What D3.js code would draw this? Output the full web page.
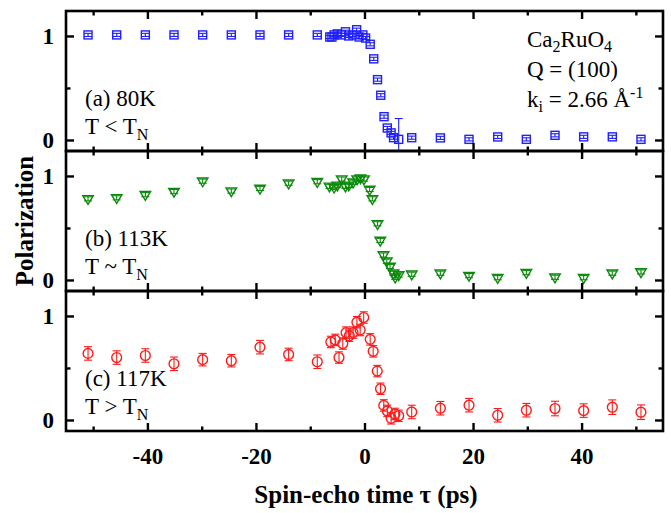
<!DOCTYPE html>
<html>
<head>
<meta charset="utf-8">
<script src="https://cdn.jsdelivr.net/npm/d3@7"></script>
<style>
  html, body { margin: 0; padding: 0; background: #fff; }
  svg { display: block; }
  text { font-family: "Liberation Serif", "Times New Roman", serif; fill: #000; }
</style>
</head>
<body>
<svg id="chart" width="671" height="513"></svg>
<script>
// Spin-echo times (ps) sampled far from the echo point
const timeWide = [-50.94, -45.66, -40.38, -35.1, -29.82, -24.54, -19.26, -13.98, -8.7,
                  8.7, 13.98, 19.26, 24.54, 29.82, 35.1, 40.38, 45.66, 50.94];

// (a) 80 K
const timeDenseA = [-6.4, -6.0, -5.6, -5.0, -4.3, -3.5, -2.9, -2.15, -1.45, -1.0, -0.3, 0.2,
                    1.05, 1.7, 2.4, 3.0, 3.6, 4.2, 4.9, 5.35, 6.3];
const polWideA = [1.01, 1.01, 1.01, 1.01, 1.01, 1.01, 1.01, 1.01, 1.01,
                  0.022, 0.02, 0.006, 0.029, 0.006, 0.045, 0.03, 0.03, 0.006];
const polDenseA = [0.99, 0.99, 1.01, 1.02, 1.01, 1.04, 1.0, 1.01, 1.06, 0.99, 1.01, 0.98,
                   0.92, 0.78, 0.58, 0.43, 0.224, 0.115, 0.068, 0.022, 0.006];
const errDenseA = [0.015, 0.015, 0.015, 0.015, 0.015, 0.015, 0.015, 0.015, 0.015, 0.015, 0.015, 0.015,
                   0.015, 0.015, 0.015, 0.015, 0.015, 0.015, 0.015, 0.015, 0.2];
const errWideA = 0.015;

// (b) 113 K
const timeDenseB = [-6.45, -5.6, -5.0, -4.2, -3.5, -2.9, -2.1, -1.35, -0.74, -0.1,
                    0.95, 1.45, 2.4, 2.9, 3.5, 4.1, 4.7, 5.35, 5.66, 6.3];
const polWideB = [0.78, 0.79, 0.82, 0.85, 0.95, 0.855, 0.88, 0.93, 0.945,
                  0.055, 0.065, 0.042, 0.022, 0.07, 0.026, 0.022, 0.065, 0.077];
const polDenseB = [0.90, 0.89, 0.91, 0.97, 0.90, 0.91, 0.94, 0.97, 0.98, 0.97,
                   0.87, 0.78, 0.54, 0.38, 0.24, 0.18, 0.13, 0.065, 0.026, 0.048];
const errB = 0.02;

// (c) 117 K
const timeDenseC = [-6.2, -5.4, -4.7, -4.0, -3.4, -2.8, -2.1, -1.4, -0.8, -0.15,
                    1.05, 1.6, 2.35, 2.95, 3.55, 4.2, 4.9, 5.6, 6.3];
const polWideC = [0.64, 0.60, 0.62, 0.54, 0.58, 0.57, 0.70, 0.63, 0.56,
                  0.077, 0.113, 0.142, 0.045, 0.094, 0.11, 0.09, 0.123, 0.075];
const polDenseC = [0.75, 0.77, 0.60, 0.735, 0.84, 0.81, 0.84, 0.94, 0.865, 0.985,
                   0.775, 0.66, 0.47, 0.30, 0.14, 0.087, 0.016, 0.058, 0.04];
const errWideC = [0.065, 0.065, 0.065, 0.065, 0.06, 0.06, 0.065, 0.06, 0.065,
                  0.065, 0.065, 0.065, 0.065, 0.065, 0.07, 0.065, 0.07, 0.07];
const errDenseC = 0.055;

const xMajorTicks = [-40, -20, 0, 20, 40];
const xMinorTicks = [-50, -30, -10, 10, 30, 50];
const yMajorTicks = [0, 1];
const yMinorTicks = [0.5];

const svg = d3.select("#chart");
const margin = { left: 66, right: 8, top: 11 };
const plotW = 671 - margin.left - margin.right;
const panelH = 140;

const x = d3.scaleLinear().domain([-55, 55]).range([0, plotW]);
const yDomain = [-0.106, 1.24];

function points(times, vals, errs) {
  return times.map((t, i) => ({ t, v: vals[i], e: Array.isArray(errs) ? errs[i] : errs }));
}

const panels = [
  {
    id: "a", color: "#1f1fff", shape: "square",
    data: points(timeWide, polWideA, errWideA).concat(points(timeDenseA, polDenseA, errDenseA)),
    lines: [["(a) 80K"], ["T < T", "N"]]
  },
  {
    id: "b", color: "#0a8a0a", shape: "triangle",
    data: points(timeWide, polWideB, errB).concat(points(timeDenseB, polDenseB, errB)),
    lines: [["(b) 113K"], ["T ~ T", "N"]]
  },
  {
    id: "c", color: "#ff1a1a", shape: "circle",
    data: points(timeWide, polWideC, errWideC).concat(points(timeDenseC, polDenseC, errDenseC)),
    lines: [["(c) 117K"], ["T > T", "N"]]
  }
];

const defs = svg.append("defs");
// plain hyphen for negative tick values
const plainNum = d => String(d);

panels.forEach((p, idx) => {
  const top = margin.top + idx * panelH;
  const y = d3.scaleLinear().domain(yDomain).range([panelH, 0]);
  const g = svg.append("g").attr("transform", `translate(${margin.left},${top})`);

  defs.append("clipPath").attr("id", "clip-" + p.id)
    .append("rect").attr("x", 0).attr("y", 0).attr("width", plotW).attr("height", panelH);

  const marks = g.append("g").attr("clip-path", `url(#clip-${p.id})`);

  // error bars
  const eb = marks.append("g").attr("stroke", p.color).attr("stroke-width", 1.1).attr("fill", "none");
  p.data.forEach(d => {
    const cx = x(d.t), y1 = y(d.v - d.e), y2 = y(d.v + d.e);
    eb.append("line").attr("x1", cx).attr("x2", cx).attr("y1", y1).attr("y2", y2);
    eb.append("line").attr("x1", cx - 4).attr("x2", cx + 4).attr("y1", y1).attr("y2", y1);
    eb.append("line").attr("x1", cx - 4).attr("x2", cx + 4).attr("y1", y2).attr("y2", y2);
  });

  // markers
  const mk = marks.append("g").attr("stroke", p.color).attr("stroke-width", 1.4).attr("fill", "none");
  p.data.forEach(d => {
    const cx = x(d.t), cy = y(d.v);
    if (p.shape === "square") {
      mk.append("rect").attr("x", cx - 4).attr("y", cy - 4).attr("width", 8).attr("height", 8);
    } else if (p.shape === "triangle") {
      mk.append("path").attr("d", `M${cx - 5.3},${cy - 3.2}L${cx + 5.3},${cy - 3.2}L${cx},${cy + 5.6}Z`);
    } else {
      mk.append("circle").attr("cx", cx).attr("cy", cy).attr("r", 4.9);
    }
  });

  // axes with inward ticks
  const styleAxis = sel => {
    sel.select(".domain").remove();
    sel.selectAll(".tick line").attr("stroke", "#000").attr("stroke-width", 2.4);
    sel.selectAll("text").attr("font-family", "Liberation Serif").attr("font-weight", "bold")
      .attr("font-size", 23).attr("fill", "#000");
  };
  const isLast = idx === panels.length - 1;

  g.append("g").attr("transform", `translate(0,${panelH})`)
    .call(d3.axisBottom(x).tickValues(xMajorTicks).tickSizeInner(-8).tickSizeOuter(0)
      .tickPadding(17).tickFormat(isLast ? plainNum : () => ""))
    .call(styleAxis);
  g.append("g").attr("transform", `translate(0,${panelH})`)
    .call(d3.axisBottom(x).tickValues(xMinorTicks).tickSizeInner(-4.5).tickSizeOuter(0).tickFormat(() => ""))
    .call(styleAxis);
  g.append("g")
    .call(d3.axisTop(x).tickValues(xMajorTicks).tickSizeInner(-8).tickSizeOuter(0).tickFormat(() => ""))
    .call(styleAxis);
  g.append("g")
    .call(d3.axisTop(x).tickValues(xMinorTicks).tickSizeInner(-4.5).tickSizeOuter(0).tickFormat(() => ""))
    .call(styleAxis);

  g.append("g")
    .call(d3.axisLeft(y).tickValues(yMajorTicks).tickSizeInner(-8).tickSizeOuter(0)
      .tickPadding(12).tickFormat(plainNum))
    .call(styleAxis);
  g.append("g")
    .call(d3.axisLeft(y).tickValues(yMinorTicks).tickSizeInner(-4.5).tickSizeOuter(0).tickFormat(() => ""))
    .call(styleAxis);
  g.append("g").attr("transform", `translate(${plotW},0)`)
    .call(d3.axisRight(y).tickValues(yMajorTicks).tickSizeInner(-8).tickSizeOuter(0).tickFormat(() => ""))
    .call(styleAxis);
  g.append("g").attr("transform", `translate(${plotW},0)`)
    .call(d3.axisRight(y).tickValues(yMinorTicks).tickSizeInner(-4.5).tickSizeOuter(0).tickFormat(() => ""))
    .call(styleAxis);

  // frame
  g.append("rect").attr("x", 0).attr("y", 0).attr("width", plotW).attr("height", panelH)
    .attr("fill", "none").attr("stroke", "#000").attr("stroke-width", 2.6);

  // panel captions
  p.lines.forEach((ln, k) => {
    const t = g.append("text").attr("x", 19).attr("y", 95 + k * 27.5).attr("font-size", 23);
    t.append("tspan").text(ln[0]);
    if (ln[1]) t.append("tspan").attr("font-size", 16).attr("dy", 6).text(ln[1]);
  });
});

// sample description in the top panel
const info = svg.append("g").attr("transform", `translate(527,0)`);
const l1 = info.append("text").attr("x", 0).attr("y", 46.5).attr("font-size", 23);
l1.append("tspan").text("Ca");
l1.append("tspan").attr("font-size", 16).attr("dy", 5).text("2");
l1.append("tspan").attr("dy", -5).text("RuO");
l1.append("tspan").attr("font-size", 16).attr("dy", 5).text("4");
info.append("text").attr("x", 0).attr("y", 76.5).attr("font-size", 23).text("Q = (100)");
const l3 = info.append("text").attr("x", 0).attr("y", 106.5).attr("font-size", 23);
l3.append("tspan").text("k");
l3.append("tspan").attr("font-size", 16).attr("dy", 5).text("i");
l3.append("tspan").attr("dy", -5).text(" = 2.66 Å");
l3.append("tspan").attr("font-size", 16).attr("dy", -9).text("-1");

// axis titles
svg.append("text")
  .attr("transform", `translate(33,221) rotate(-90)`)
  .attr("text-anchor", "middle").attr("font-weight", "bold").attr("font-size", 25)
  .text("Polarization");
svg.append("text")
  .attr("x", 366).attr("y", 503)
  .attr("text-anchor", "middle").attr("font-weight", "bold").attr("font-size", 25)
  .text("Spin-echo time τ (ps)");
</script>
</body>
</html>
